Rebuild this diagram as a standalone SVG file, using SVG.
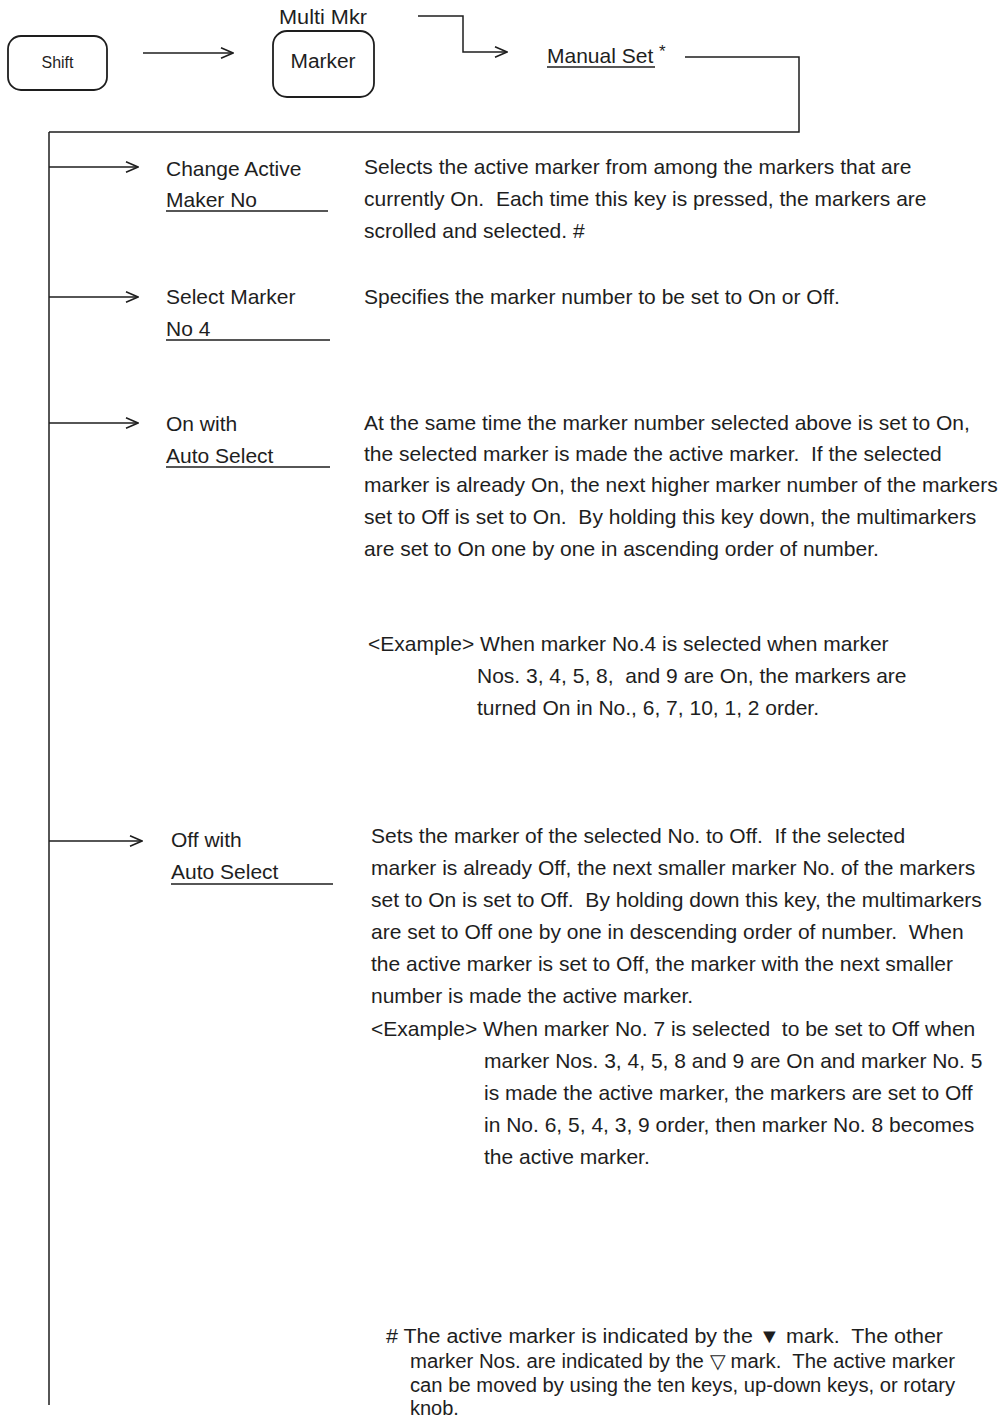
<svg xmlns="http://www.w3.org/2000/svg" width="1005" height="1422" viewBox="0 0 1005 1422">
<style>
text{font-family:"Liberation Sans",Arial,sans-serif;fill:#1e1e1e;font-size:21px}
.key{font-size:20px}
.small{font-size:17px}
.note{font-size:20px}
.ln{stroke:#1e1e1e;stroke-width:1.5;fill:none}
.box{stroke:#1e1e1e;stroke-width:1.8;fill:#fff}
.ul{stroke:#1e1e1e;stroke-width:1.3}
</style>
<defs>
<marker id="ah" markerUnits="userSpaceOnUse" viewBox="0 0 14 12" refX="13" refY="6" markerWidth="14" markerHeight="12" orient="auto">
<path d="M1,0.8 L13,6 L1,11.2" fill="none" stroke="#1e1e1e" stroke-width="1.5"/>
</marker>
</defs>
<rect width="1005" height="1422" fill="#fff"/>

<g id="connectors">
<line class="ln" x1="143" y1="53" x2="233" y2="53" marker-end="url(#ah)"/>
<polyline class="ln" points="418,16 463,16 463,52 507,52" marker-end="url(#ah)"/>
<polyline class="ln" points="685,57 799,57 799,132 49,132"/>
<line class="ln" x1="49" y1="132" x2="49" y2="1405"/>
<line class="ln" x1="49" y1="167" x2="138" y2="167" marker-end="url(#ah)"/>
<line class="ln" x1="49" y1="297" x2="138" y2="297" marker-end="url(#ah)"/>
<line class="ln" x1="49" y1="423" x2="138" y2="423" marker-end="url(#ah)"/>
<line class="ln" x1="49" y1="841" x2="142" y2="841" marker-end="url(#ah)"/>
</g>

<g id="shift">
<rect class="box" x="8" y="36" width="99" height="54" rx="13"/>
<text class="small" x="57.5" y="68" text-anchor="middle" textLength="32" lengthAdjust="spacingAndGlyphs">Shift</text>
</g>

<g id="marker">
<text class="key" x="323" y="24" text-anchor="middle" textLength="88" lengthAdjust="spacingAndGlyphs">Multi Mkr</text>
<rect class="box" x="273" y="31" width="101" height="66" rx="14"/>
<text class="key" x="323" y="68" text-anchor="middle" textLength="65" lengthAdjust="spacingAndGlyphs">Marker</text>
</g>

<g id="manual-set">
<text x="547" y="63">Manual Set</text>
<text class="small" x="659" y="57">*</text>
<line class="ul" x1="547" y1="67" x2="655" y2="67"/>
</g>

<g id="change-active">
<text x="166" y="176">Change Active</text>
<text x="166" y="207">Maker No</text>
<line class="ul" x1="166" y1="211" x2="328" y2="211"/>
<text x="364" y="174">Selects the active marker from among the markers that are</text>
<text x="364" y="206" xml:space="preserve">currently On.  Each time this key is pressed, the markers are</text>
<text x="364" y="238">scrolled and selected. #</text>
</g>

<g id="select-marker">
<text x="166" y="304">Select Marker</text>
<text x="166" y="336">No 4</text>
<line class="ul" x1="166" y1="340" x2="330" y2="340"/>
<text x="364" y="304">Specifies the marker number to be set to On or Off.</text>
</g>

<g id="on-auto-select">
<text x="166" y="431">On with</text>
<text x="166" y="463">Auto Select</text>
<line class="ul" x1="166" y1="467" x2="330" y2="467"/>
<text x="364" y="430">At the same time the marker number selected above is set to On,</text>
<text x="364" y="461" xml:space="preserve">the selected marker is made the active marker.  If the selected</text>
<text x="364" y="492">marker is already On, the next higher marker number of the markers</text>
<text x="364" y="524" xml:space="preserve">set to Off is set to On.  By holding this key down, the multimarkers</text>
<text x="364" y="556">are set to On one by one in ascending order of number.</text>
<text x="368" y="651">&lt;Example&gt; When marker No.4 is selected when marker</text>
<text x="477" y="683" xml:space="preserve">Nos. 3, 4, 5, 8,  and 9 are On, the markers are</text>
<text x="477" y="715">turned On in No., 6, 7, 10, 1, 2 order.</text>
</g>

<g id="off-auto-select">
<text x="171" y="847">Off with</text>
<text x="171" y="879">Auto Select</text>
<line class="ul" x1="171" y1="884" x2="333" y2="884"/>
<text x="371" y="843" xml:space="preserve">Sets the marker of the selected No. to Off.  If the selected</text>
<text x="371" y="875">marker is already Off, the next smaller marker No. of the markers</text>
<text x="371" y="907" xml:space="preserve">set to On is set to Off.  By holding down this key, the multimarkers</text>
<text x="371" y="939" xml:space="preserve">are set to Off one by one in descending order of number.  When</text>
<text x="371" y="971">the active marker is set to Off, the marker with the next smaller</text>
<text x="371" y="1003">number is made the active marker.</text>
<text x="371" y="1036" xml:space="preserve">&lt;Example&gt; When marker No. 7 is selected  to be set to Off when</text>
<text x="484" y="1068">marker Nos. 3, 4, 5, 8 and 9 are On and marker No. 5</text>
<text x="484" y="1100">is made the active marker, the markers are set to Off</text>
<text x="484" y="1132">in No. 6, 5, 4, 3, 9 order, then marker No. 8 becomes</text>
<text x="484" y="1164">the active marker.</text>
</g>

<g id="footnote">
<text class="note" x="386" y="1343" textLength="557" lengthAdjust="spacingAndGlyphs" xml:space="preserve"># The active marker is indicated by the ▼ mark.  The other</text>
<text class="note" x="410" y="1368" textLength="545" lengthAdjust="spacingAndGlyphs" xml:space="preserve">marker Nos. are indicated by the ▽ mark.  The active marker</text>
<text class="note" x="410" y="1392" textLength="545" lengthAdjust="spacingAndGlyphs">can be moved by using the ten keys, up-down keys, or rotary</text>
<text class="note" x="410" y="1415">knob.</text>
</g>
</svg>
